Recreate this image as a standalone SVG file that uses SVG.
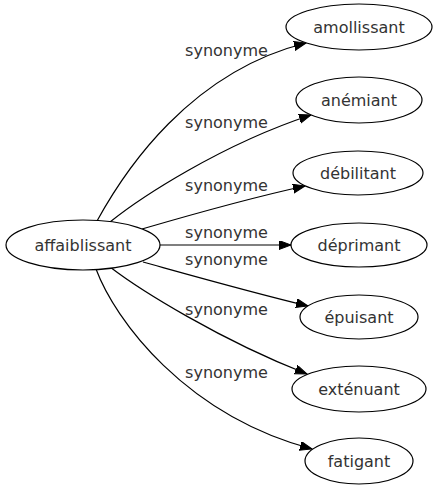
<svg xmlns="http://www.w3.org/2000/svg" width="437" height="491" viewBox="0 0 437 491">
<style>
.node ellipse{fill:#fff;stroke:#000;stroke-width:1.2}
.node text{font-family:"DejaVu Sans",sans-serif;font-size:16px;fill:#333;text-anchor:middle}
.edge path{fill:none;stroke:#000;stroke-width:1.2}
.lbl{font-family:"DejaVu Sans",sans-serif;font-size:16px;fill:#333;text-anchor:middle}
</style>
<defs>
<marker id="arr" markerUnits="userSpaceOnUse" markerWidth="14" markerHeight="10" refX="12" refY="4.5" orient="auto" viewBox="0 0 14 10">
<path d="M0,0 L12,4.5 L0,9 z" fill="#000" stroke="#000" stroke-width="1"/>
</marker>
</defs>
<rect width="437" height="491" fill="#fff"/>
<g id="edges" class="edge">
<path d="M97,221 C125,170 190,72 306,43" marker-end="url(#arr)"/>
<path d="M110,222 C140,198 220,145 311,115" marker-end="url(#arr)"/>
<path d="M142,229 C190,215 250,198 305,186" marker-end="url(#arr)"/>
<path d="M160,245 L291,245" marker-end="url(#arr)"/>
<path d="M143,262 C190,275 250,292 308,306" marker-end="url(#arr)"/>
<path d="M110,267 C140,290 220,340 307,374" marker-end="url(#arr)"/>
<path d="M96,269 C115,320 185,415 312,449" marker-end="url(#arr)"/>
<text class="lbl" x="226.5" y="56">synonyme</text>
<text class="lbl" x="226.5" y="128">synonyme</text>
<text class="lbl" x="226.5" y="191">synonyme</text>
<text class="lbl" x="226.5" y="238">synonyme</text>
<text class="lbl" x="226.5" y="265">synonyme</text>
<text class="lbl" x="226.5" y="315">synonyme</text>
<text class="lbl" x="226.5" y="378">synonyme</text>
</g>
<g id="affaiblissant" class="node"><ellipse cx="83" cy="245" rx="77" ry="25"/><text x="83" y="251">affaiblissant</text></g>
<g id="amollissant" class="node"><ellipse cx="359" cy="27" rx="73" ry="23"/><text x="359" y="33">amollissant</text></g>
<g id="anemiant" class="node"><ellipse cx="359" cy="100" rx="63" ry="23"/><text x="359" y="106">anémiant</text></g>
<g id="debilitant" class="node"><ellipse cx="358" cy="173" rx="65" ry="22"/><text x="358" y="179">débilitant</text></g>
<g id="deprimant" class="node"><ellipse cx="359" cy="245" rx="68" ry="22"/><text x="359" y="251">déprimant</text></g>
<g id="epuisant" class="node"><ellipse cx="359" cy="317" rx="59" ry="22"/><text x="359" y="323">épuisant</text></g>
<g id="extenuant" class="node"><ellipse cx="359" cy="389" rx="67" ry="23"/><text x="359" y="395">exténuant</text></g>
<g id="fatigant" class="node"><ellipse cx="359" cy="461" rx="54" ry="23"/><text x="359" y="467">fatigant</text></g>
</svg>
